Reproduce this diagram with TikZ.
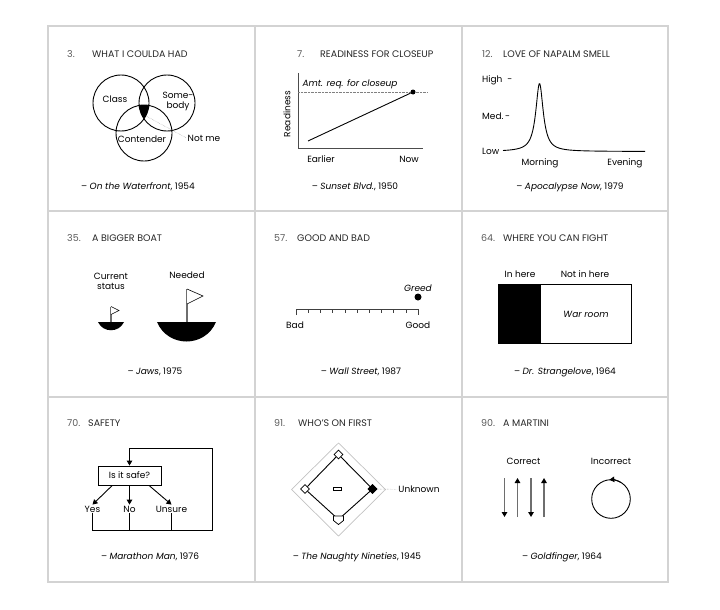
\documentclass[tikz,border=0pt]{standalone}
\usepackage{fontspec}
\setmainfont{Poppins}
\usetikzlibrary{arrows.meta,positioning,shapes.geometric}
\definecolor{panelrule}{HTML}{D3D3D3}
\definecolor{numgray}{HTML}{5A5A5A}
\definecolor{mastgray}{HTML}{6E6E6E}
\newcommand{\film}[2]{-- \emph{#1}, #2}
\newcommand{\titlefont}{\fontsize{9.5}{11}\selectfont}
\newcommand{\labelfont}{\fontsize{9}{10}\selectfont}
\newcommand{\quotefont}{\fontsize{9}{10}\selectfont}

\begin{document}
\begin{tikzpicture}[x=1pt,y=-1pt,
    panelnum/.style={anchor=west,inner sep=0pt,text=numgray,font=\titlefont},
    paneltitle/.style={anchor=west,inner sep=0pt,text=black!85,font=\titlefont},
    lbl/.style={inner sep=1pt,font=\labelfont},
    quote/.style={inner sep=0pt,font=\quotefont},
    flowarrow/.style={-{Triangle[length=5pt,width=5.5pt]}},
    base/.style={diamond,draw,fill=white,inner sep=0pt,minimum size=9pt,line width=0.7pt},
    blob/.style={circle,fill,inner sep=0pt,minimum size=#1},
  ]
      \useasboundingbox (0,0) rectangle (720,610);
      \draw[panelrule,line width=2pt] (48,26) rectangle (668,582);
      \draw[panelrule,line width=2pt] (255,26) -- (255,582) (462,26) -- (462,582)
        (48,211) -- (668,211) (48,397) -- (668,397);

      % 3
      \node[panelnum] (n3) at (67,54) {3.};
      \node[paneltitle] (t3) at (92,54) {WHAT I COULDA HAD};
      \begin{scope}
        \clip (121,103) circle (28pt);
        \clip (167,103) circle (28pt);
        \fill (144,133) circle (28pt);
      \end{scope}
      \draw[line width=0.9pt] (121,103) circle (28pt) (167,103) circle (28pt) (144,133) circle (28pt);
      \node[lbl] (class) at (115,99) {Class};
      \node[lbl,align=center] (somebody) at (178,101) {Some-\\body};
      \node[lbl] (contender) at (142,139) {Contender};
      \node[lbl] (notme) at (204,138) {Not me};
      \coordinate (core) at (146,116);
      \draw[densely dotted,gray] (core) -- (notme.west);
      \node[quote] (q3) at (138,187) {\film{On the Waterfront}{1954}};

      % 7
      \node[panelnum] (n7) at (297,54) {7.};
      \node[paneltitle] (t7) at (320,54) {READINESS FOR CLOSEUP};
      \coordinate (o7) at (298,148);
      \draw[black!70,line width=0.6pt] (298,73) -- (o7) -- (423,148);
      \draw[densely dotted,gray] (298,92) -- (427,92);
      \node[lbl,font=\labelfont\itshape] (amt) at (350,84) {Amt. req. for closeup};
      \node[blob=5pt] (now7) at (413,92) {};
      \coordinate (early) at (308,141);
      \draw[line width=0.9pt] (early) -- (now7);
      \node[lbl,rotate=90] (ready) at (287,114) {Readiness};
      \node[lbl] (earlier) at (321,159) {Earlier};
      \node[lbl] (now) at (409,159) {Now};
      \node[quote] (q7) at (355,187) {\film{Sunset Blvd.}{1950}};

      % 12
      \node[panelnum] (n12) at (482,54) {12.};
      \node[paneltitle] (t12) at (503,54) {LOVE OF NAPALM SMELL};
      \node[lbl,anchor=west] (high) at (481,80) {High~~-};
      \node[lbl,anchor=west] (med) at (481,116) {Med.\,-};
      \node[lbl,anchor=west] (low) at (481,151) {Low};
      \draw[line width=0.9pt,domain=503:645,samples=240,smooth]
        plot (\x,{151.5-68/(1+((\x-539.5)/4.5)^2)});
      \node[lbl] (morning) at (540,163) {Morning};
      \node[lbl] (evening) at (625,163) {Evening};
      \node[quote] (q12) at (570,187) {\film{Apocalypse Now}{1979}};

      % 35
      \node[panelnum] (n35) at (67,238) {35.};
      \node[paneltitle] (t35) at (92,238) {A BIGGER BOAT};
      \node[lbl,align=center] (current) at (111,281) {Current\\status};
      \node[lbl] (needed) at (187,275) {Needed};
      \fill (98,322) .. controls (103,333) and (119,333) .. (124,322) -- cycle;
      \draw[mastgray,line width=1.2pt] (111,322) -- (111,306.5);
      \draw[line width=0.6pt,fill=white] (111,306.5) -- (119,310.5) -- (111,314.5);
      \fill (157,322) .. controls (168,348) and (205,348) .. (216,322) -- cycle;
      \draw[mastgray,line width=1.2pt] (187,322) -- (187,289);
      \draw[line width=0.6pt,fill=white] (187,289) -- (203,296) -- (187,304);
      \node[quote] (q35) at (155,372) {\film{Jaws}{1975}};

      % 57
      \node[panelnum] (n57) at (274,238) {57.};
      \node[paneltitle] (t57) at (297,238) {GOOD AND BAD};
      \draw[black!75,line width=0.6pt] (296,315) -- (296,309) -- (418,309) -- (418,315);
      \foreach \i in {1,...,9}
        \draw[black!75,line width=0.6pt] (296+12.2*\i,309) -- ++(0,3.5);
      \node[lbl] (bad) at (295,325) {Bad};
      \node[lbl] (good) at (418,325) {Good};
      \node[blob=7pt] (greeddot) at (418,297) {};
      \node[lbl,font=\labelfont\itshape,above=1pt of greeddot] (greed) {Greed};
      \node[quote] (q57) at (361,372) {\film{Wall Street}{1987}};

      % 64
      \node[panelnum] (n64) at (481,238) {64.};
      \node[paneltitle] (t64) at (503,238) {WHERE YOU CAN FIGHT};
      \node[lbl] (inhere) at (520,274) {In here};
      \node[lbl] (notinhere) at (585,274) {Not in here};
      \fill (498,284.5) rectangle (541,343.5);
      \draw[line width=0.9pt] (498,284.5) rectangle (631,343.5);
      \node[lbl,font=\labelfont\itshape] (warroom) at (586,314) {War room};
      \node[quote] (q64) at (565,372) {\film{Dr. Strangelove}{1964}};

      % 70
      \node[panelnum] (n70) at (67,423) {70.};
      \node[paneltitle] (t70) at (88,423) {SAFETY};
      \node[lbl,draw,line width=0.9pt,minimum width=63pt,minimum height=19pt] (safe) at (129.5,475.5) {Is it safe?};
      \node[lbl] (yes) at (92.5,509) {Yes};
      \node[lbl] (no) at (129.5,509) {No};
      \node[lbl] (unsure) at (171.5,509) {Unsure};
      \draw[flowarrow,line width=0.9pt] (safe.-150) -- (yes.north);
      \draw[flowarrow,line width=0.9pt] (safe) -- (no);
      \draw[flowarrow,line width=0.9pt] (safe.-27) -- (unsure.north);
      \coordinate (loopbr) at (212.5,530);
      \coordinate (looptr) at (212.5,448.5);
      \draw[flowarrow,line width=0.9pt] (yes.south) |- (loopbr) |- (safe.north |- looptr) -- (safe.north);
      \draw[line width=0.9pt] (no.south) -- (no.south |- loopbr);
      \draw[line width=0.9pt] (unsure.south) -- (unsure.south |- loopbr);
      \node[quote] (q70) at (150,557) {\film{Marathon Man}{1976}};

      % 91
      \node[panelnum] (n91) at (274,423) {91.};
      \node[paneltitle] (t91) at (298,423) {WHO’S ON FIRST};
      \draw[panelrule!80!gray,line width=0.7pt] (291.5,489.5) -- (338.5,443) -- (385.5,489.5) -- (338.5,536) -- cycle;
      \coordinate (home) at (338.5,519.5);
      \node[base] (first) at (372.5,489) {};
      \node[base] (second) at (338.5,454.5) {};
      \node[base] (third) at (305,489) {};
      \draw[line width=0.9pt] (home) -- (first) -- (second) -- (third) -- (home);
      \node[base,fill=black] at (first) {};
      \filldraw[fill=white,line width=0.7pt] (333.5,516) -- (343.5,516) -- (343.5,520.5) -- (338.5,524.5) -- (333.5,520.5) -- cycle;
      \node[draw,fill=white,line width=0.7pt,inner sep=0pt,minimum width=8pt,minimum height=3pt] (rubber) at (337,488.5) {};
      \node[lbl] (unknown) at (419,489.5) {Unknown};
      \draw[densely dotted,gray] (first) -- (unknown);
      \node[quote] (q91) at (357,557) {\film{The Naughty Nineties}{1945}};

      % 90
      \node[panelnum] (n90) at (481,423) {90.};
      \node[paneltitle] (t90) at (503,423) {A MARTINI};
      \node[lbl] (correct) at (523.5,461) {Correct};
      \node[lbl] (incorrect) at (611,461) {Incorrect};
      \foreach \x/\a/\b in {504.5/478/517,517.5/517/478,531/478/517,544/517/478}
        \draw[mastgray,line width=1.5pt,-{Triangle[length=5pt,width=5.5pt,black]}] (\x,\a) -- (\x,\b);
      \coordinate (olive) at (611,499);
      \draw[line width=0.9pt] (olive) circle (19.3pt);
      \draw[line width=0.9pt,-{Triangle[length=5pt,width=5.5pt]}] (olive) ++(60:19.3pt) arc (60:95:19.3pt);
      \node[quote] (q90) at (562,557) {\film{Goldfinger}{1964}};
\end{tikzpicture}
\end{document}
